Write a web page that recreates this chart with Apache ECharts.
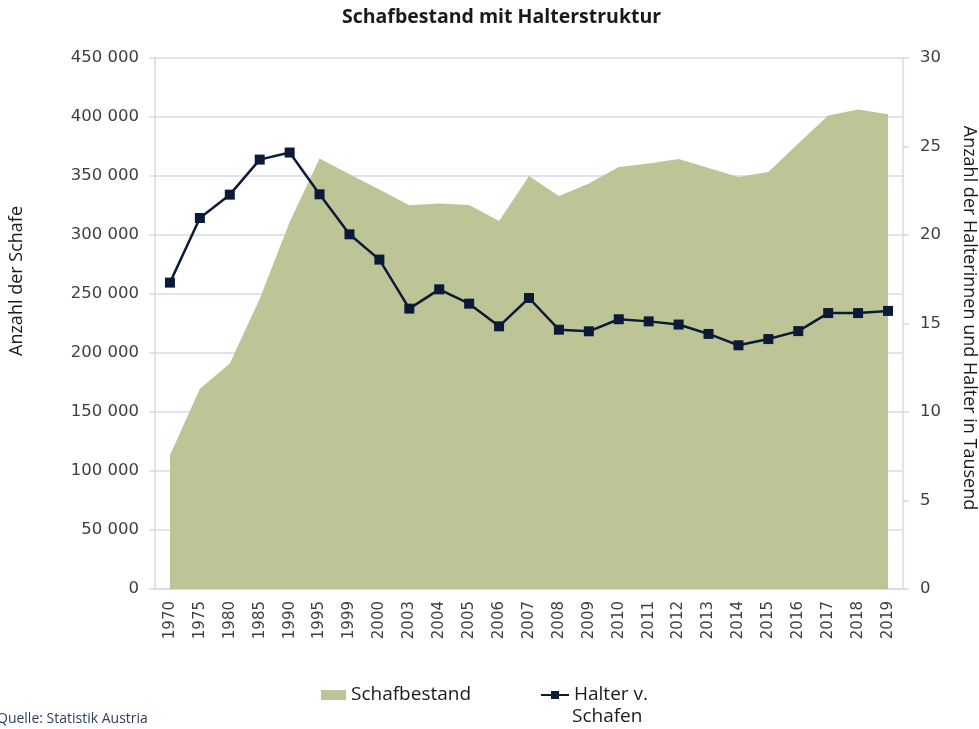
<!DOCTYPE html>
<html>
<head>
  <meta charset="utf-8">
  <title>Schafbestand mit Halterstruktur</title>
  <script src="https://cdn.jsdelivr.net/npm/echarts@6/dist/echarts.min.js"></script>
  <style>
    html, body { margin: 0; padding: 0; background: #fff; }
    #chart { width: 979px; height: 729px; }
  </style>
</head>
<body>
<div id="chart"></div>
<script>
  // Jahre (Kategorien)
  const years = ['1970', '1975', '1980', '1985', '1990', '1995', '1999', '2000', '2003', '2004', '2005', '2006', '2007',
    '2008', '2009', '2010', '2011', '2012', '2013', '2014', '2015', '2016', '2017', '2018', '2019']
  // Schafbestand (Stück)
  const schafbestand = [113300, 169800, 191000, 246000, 311000, 364800, 351400, 338500, 325200, 326600, 325400, 311900, 350000,
    333100, 343600, 357600, 360500, 364400, 356800, 349200, 353400, 377500, 401200, 406300, 402300]
  // Halter v. Schafen (in Tausend)
  const halter = [17.31, 20.96, 22.28, 24.26, 24.66, 22.30, 20.04, 18.61, 15.84, 16.93, 16.12, 14.84, 16.44,
    14.65, 14.56, 15.24, 15.12, 14.94, 14.41, 13.77, 14.12, 14.57, 15.59, 15.59, 15.71]

  const gridColor = '#d9d8e6'
  const labelColor = '#3f3f3f'
  const textColor = '#1a1a1a'

  // Tausendertrennzeichen mit Leerzeichen
  function fmt (v) {
    return String(v).replace(/\B(?=(\d{3})+(?!\d))/g, ' ')
  }

  let myChart = echarts.init(document.getElementById('chart'))
  myChart.setOption({
    animation: false,
    title: {
      text: 'Schafbestand mit Halterstruktur',
      left: 342,
      top: 7,
      padding: 0,
      textStyle: {
        fontFamily: 'Open Sans',
        fontWeight: 'bold',
        fontSize: 19.5,
        color: textColor
      }
    },
    grid: {
      left: 155,
      right: 76,
      top: 58,
      bottom: 140
    },
    legend: [
      {
        data: [{ name: 'Schafbestand', icon: 'rect' }],
        left: 321,
        top: 684,
        padding: 0,
        itemWidth: 25,
        itemHeight: 10,
        itemGap: 4,
        textStyle: { fontFamily: 'Open Sans', fontSize: 19, color: textColor, lineHeight: 22 }
      },
      {
        data: ['Halter v. Schafen'],
        left: 540,
        top: 684,
        padding: 0,
        itemWidth: 28,
        itemHeight: 10,
        itemGap: 4,
        // zweite Zeile steht als eigener Text darunter
        formatter: () => 'Halter v.',
        textStyle: { fontFamily: 'Open Sans', fontSize: 19, color: textColor, lineHeight: 22 }
      }
    ],
    xAxis: {
      type: 'category',
      data: years,
      boundaryGap: true,
      axisLine: { lineStyle: { color: gridColor, width: 1.5 } },
      axisTick: { inside: true, alignWithLabel: true, length: 4, lineStyle: { color: '#cfd3b8' } },
      axisLabel: {
        rotate: 90,
        interval: 0,
        margin: 12,
        color: labelColor,
        fontFamily: 'DejaVu Sans',
        fontSize: 15
      }
    },
    yAxis: [
      {
        type: 'value',
        min: 0,
        max: 450000,
        interval: 50000,
        axisLine: { show: true, lineStyle: { color: gridColor, width: 1.5 } },
        axisTick: { show: true, length: 6, lineStyle: { color: gridColor, width: 1.5 } },
        axisLabel: {
          margin: 16,
          color: labelColor,
          fontFamily: 'DejaVu Sans',
          fontSize: 16.5,
          formatter: fmt
        },
        splitLine: { lineStyle: { color: gridColor, width: 1.5 } }
      },
      {
        type: 'value',
        min: 0,
        max: 30,
        interval: 5,
        position: 'right',
        axisLine: { show: true, lineStyle: { color: gridColor, width: 1.5 } },
        axisTick: { show: true, length: 6, lineStyle: { color: gridColor, width: 1.5 } },
        axisLabel: {
          margin: 17,
          color: labelColor,
          fontFamily: 'DejaVu Sans',
          fontSize: 16.5
        },
        splitLine: { show: false }
      }
    ],
    graphic: [
      // Achsentitel
      {
        type: 'text',
        x: 17,
        y: 281,
        rotation: Math.PI / 2,
        style: {
          text: 'Anzahl der Schafe',
          fontFamily: 'Open Sans',
          fontSize: 18,
          fill: textColor,
          align: 'center',
          verticalAlign: 'middle'
        }
      },
      {
        type: 'text',
        x: 969,
        y: 318,
        rotation: -Math.PI / 2,
        style: {
          text: 'Anzahl der Halterinnen und Halter in Tausend',
          fontFamily: 'Open Sans',
          fontSize: 18,
          fill: textColor,
          align: 'center',
          verticalAlign: 'middle'
        }
      },
      // zweite Zeile der Legende
      {
        type: 'text',
        x: 572,
        y: 717,
        style: {
          text: 'Schafen',
          fontFamily: 'Open Sans',
          fontSize: 19,
          fill: textColor,
          align: 'left',
          verticalAlign: 'middle'
        }
      },
      {
        type: 'text',
        x: -3,
        y: 719,
        style: {
          text: 'Quelle: Statistik Austria',
          fontFamily: 'Open Sans',
          fontSize: 14,
          fill: '#2d3e63',
          align: 'left',
          verticalAlign: 'middle'
        }
      }
    ],
    series: [
      {
        name: 'Schafbestand',
        type: 'line',
        yAxisIndex: 0,
        data: schafbestand,
        symbol: 'none',
        lineStyle: { width: 0 },
        itemStyle: { color: '#bdc596' },
        areaStyle: { color: '#bdc596', opacity: 1 },
        z: 1
      },
      {
        name: 'Halter v. Schafen',
        type: 'line',
        yAxisIndex: 1,
        data: halter,
        symbol: 'rect',
        symbolSize: 10,
        lineStyle: { color: '#0b1a36', width: 2.5 },
        itemStyle: { color: '#0b1a36' },
        z: 3
      }
    ]
  })
</script>
</body>
</html>
